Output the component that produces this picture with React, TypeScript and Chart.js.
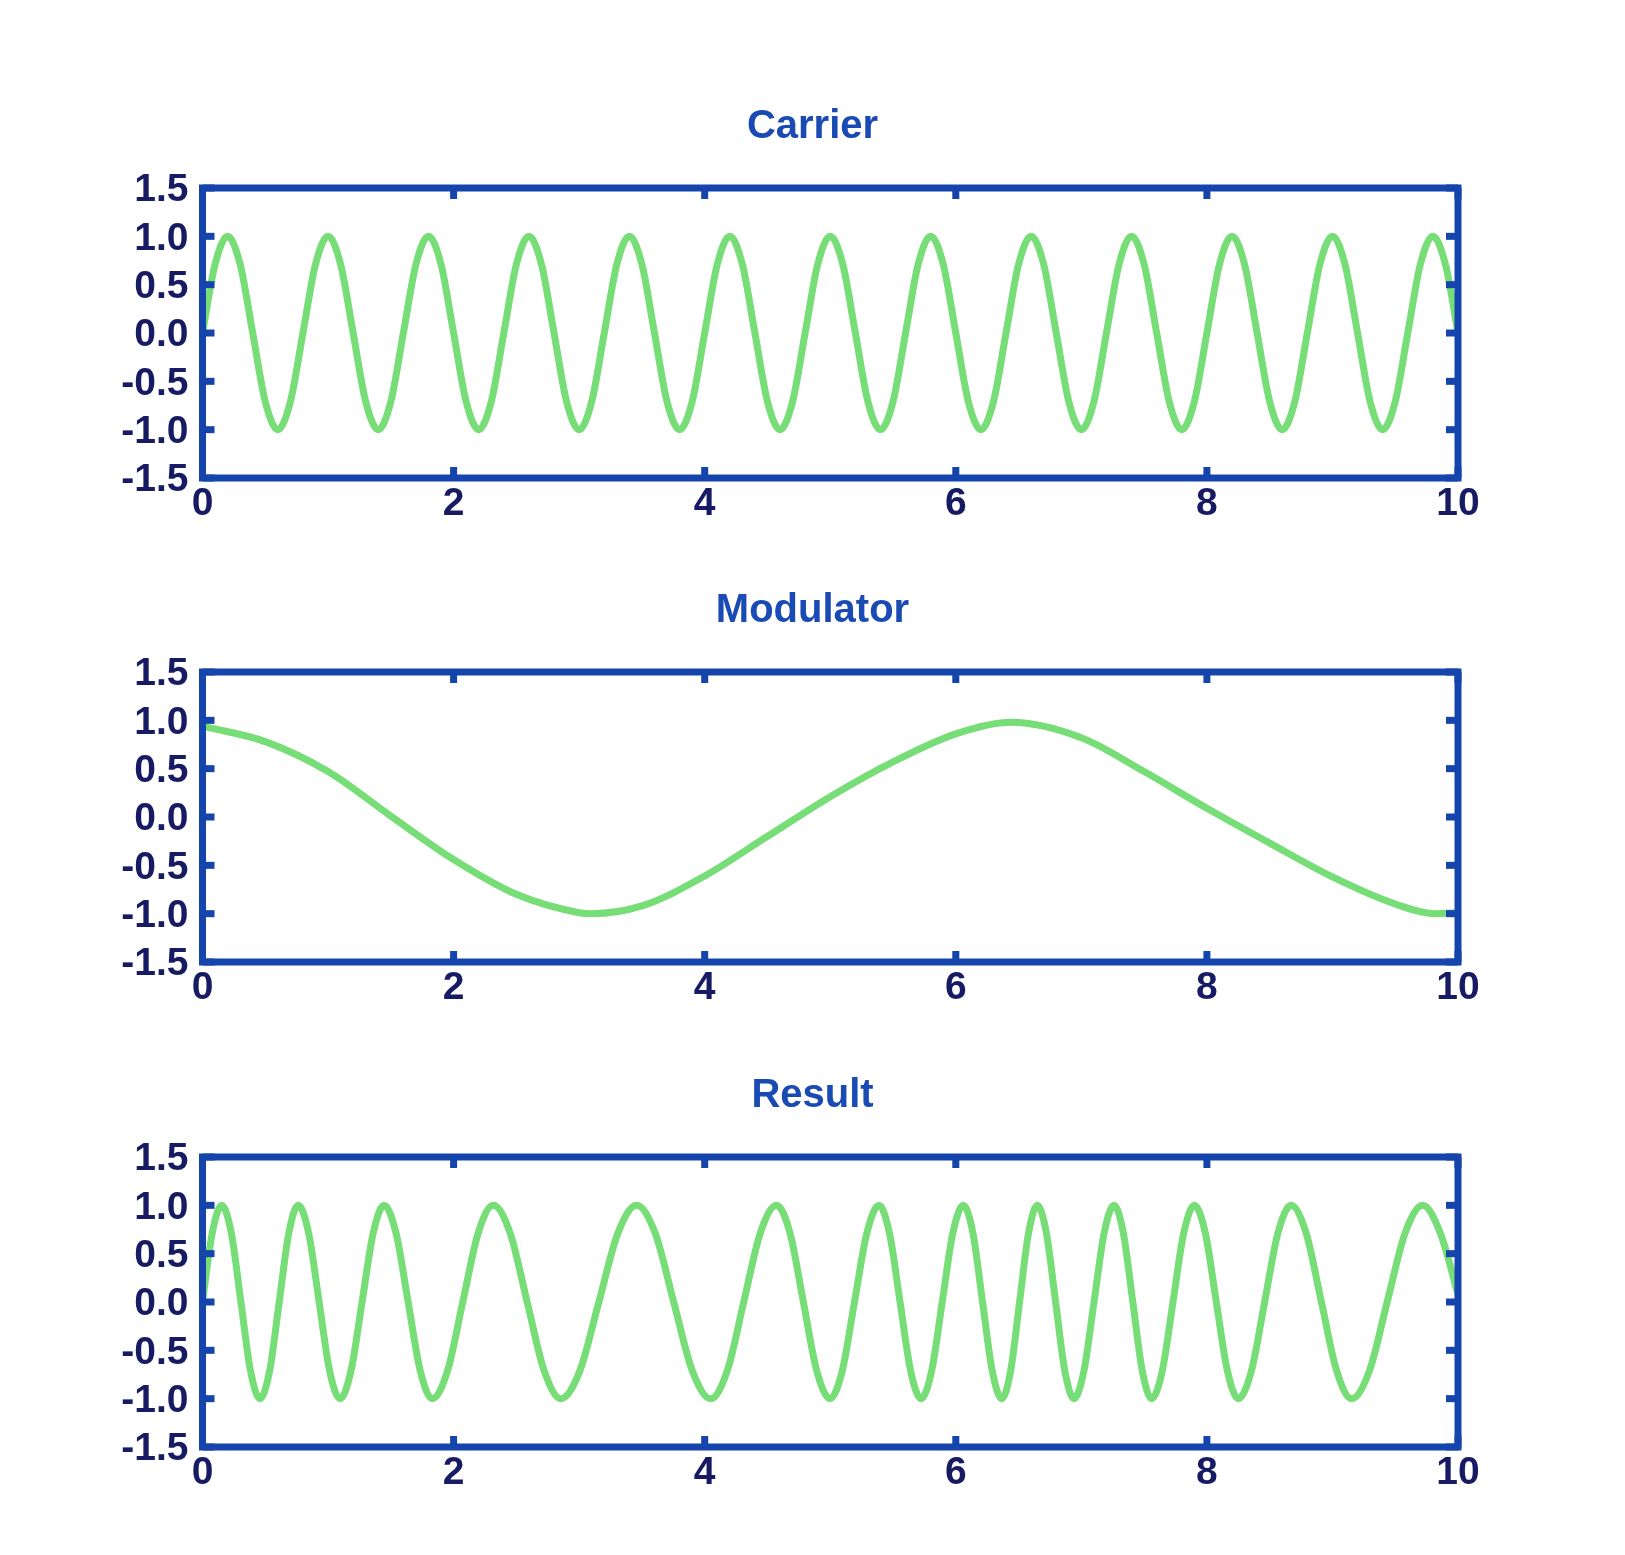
import React, { useEffect, useRef } from "react";
import { Chart, registerables } from "chart.js";

Chart.register(...registerables);

// ---------- data ----------
const carrierTime = [
  0, 0.1, 0.2, 0.3, 0.4, 0.5, 0.6, 0.7, 0.8, 0.9, 1, 1.1, 1.2, 1.3, 1.4, 1.5,
  1.6, 1.7, 1.8, 1.9, 2, 2.1, 2.2, 2.3, 2.4, 2.5, 2.6, 2.7, 2.8, 2.9, 3, 3.1,
  3.2, 3.3, 3.4, 3.5, 3.6, 3.7, 3.8, 3.9, 4, 4.1, 4.2, 4.3, 4.4, 4.5, 4.6, 4.7,
  4.8, 4.9, 5, 5.1, 5.2, 5.3, 5.4, 5.5, 5.6, 5.7, 5.8, 5.9, 6, 6.1, 6.2, 6.3,
  6.4, 6.5, 6.6, 6.7, 6.8, 6.9, 7, 7.1, 7.2, 7.3, 7.4, 7.5, 7.6, 7.7, 7.8, 7.9,
  8, 8.1, 8.2, 8.3, 8.4, 8.5, 8.6, 8.7, 8.8, 8.9, 9, 9.1, 9.2, 9.3, 9.4, 9.5,
  9.6, 9.7, 9.8, 9.9, 10,
];
const carrierValue = [
  0, 0.71, 1, 0.71, 0, -0.71, -1, -0.71, 0, 0.71, 1, 0.71, 0, -0.71, -1, -0.71,
  0, 0.71, 1, 0.71, 0, -0.71, -1, -0.71, 0, 0.71, 1, 0.71, 0, -0.71, -1, -0.71,
  0, 0.71, 1, 0.71, 0, -0.71, -1, -0.71, 0, 0.71, 1, 0.71, 0, -0.71, -1, -0.71,
  0, 0.71, 1, 0.71, 0, -0.71, -1, -0.71, 0, 0.71, 1, 0.71, 0, -0.71, -1, -0.71,
  0, 0.71, 1, 0.71, 0, -0.71, -1, -0.71, 0, 0.71, 1, 0.71, 0, -0.71, -1, -0.71,
  0, 0.71, 1, 0.71, 0, -0.71, -1, -0.71, 0, 0.71, 1, 0.71, 0, -0.71, -1, -0.71,
  0, 0.71, 1, 0.71, 0,
];

const modulatorTime = [
  0, 0.5, 1.0, 1.5, 2.0, 2.5, 3.0, 3.1, 3.5, 4.0, 4.5, 5.0, 5.5, 6.0, 6.44, 7.0,
  7.5, 8.0, 8.5, 9.0, 9.5, 9.82, 10,
];
const modulatorValue = [
  0.94, 0.78, 0.47, 0.01, -0.44, -0.8, -0.99, -1.0, -0.92, -0.61, -0.2, 0.21,
  0.57, 0.86, 0.98, 0.82, 0.47, 0.09, -0.27, -0.62, -0.9, -1.0, -0.99,
];

const resultTime = [
  0, 0.077, 0.153, 0.23, 0.306, 0.382, 0.458, 0.535, 0.611, 0.687, 0.763,
  0.846, 0.929, 1.012, 1.095, 1.183, 1.271, 1.359, 1.446, 1.542, 1.638, 1.734,
  1.83, 1.952, 2.073, 2.195, 2.316, 2.451, 2.586, 2.721, 2.855, 3.006, 3.157,
  3.308, 3.458, 3.606, 3.753, 3.901, 4.048, 4.18, 4.311, 4.442, 4.573, 4.68,
  4.786, 4.892, 4.998, 5.096, 5.193, 5.291, 5.388, 5.472, 5.556, 5.64, 5.723,
  5.808, 5.892, 5.976, 6.06, 6.137, 6.213, 6.29, 6.366, 6.437, 6.508, 6.579,
  6.649, 6.722, 6.795, 6.868, 6.941, 7.021, 7.101, 7.181, 7.26, 7.335, 7.41,
  7.485, 7.56, 7.645, 7.73, 7.815, 7.9, 7.988, 8.075, 8.163, 8.25, 8.355, 8.46,
  8.565, 8.67, 8.791, 8.912, 9.033, 9.153, 9.295, 9.436, 9.578, 9.719, 9.86, 10,
];
const resultValue = [
  0, 0.71, 1, 0.71, 0, -0.71, -1, -0.71, 0, 0.71, 1, 0.71, 0, -0.71, -1, -0.71,
  0, 0.71, 1, 0.71, 0, -0.71, -1, -0.71, 0, 0.71, 1, 0.71, 0, -0.71, -1, -0.71,
  0, 0.71, 1, 0.71, 0, -0.71, -1, -0.71, 0, 0.71, 1, 0.71, 0, -0.71, -1, -0.71,
  0, 0.71, 1, 0.71, 0, -0.71, -1, -0.71, 0, 0.71, 1, 0.71, 0, -0.71, -1, -0.71,
  0, 0.71, 1, 0.71, 0, -0.71, -1, -0.71, 0, 0.71, 1, 0.71, 0, -0.71, -1, -0.71,
  0, 0.71, 1, 0.71, 0, -0.71, -1, -0.71, 0, 0.71, 1, 0.71, 0, -0.71, -1, -0.71,
  0, 0.71, 1, 0.71, 0.08,
];

const xTickValues = [0, 2, 4, 6, 8, 10];
const yTickValues = [-1.5, -1, -0.5, 0, 0.5, 1, 1.5];
const panelTitles = ["Carrier", "Modulator", "Result"];

// ---------- styles ----------
const FRAME = "#1444ac";
const TITLE_COLOR = "#1a4ab4";
const LABEL_COLOR = "#161b63";
const GREEN = "#77dd77";
const FONT = "'Liberation Sans', Arial, Helvetica, sans-serif";

const framePlugin = {
  id: "frameTicks",
  afterDatasetsDraw(chart: any) {
    const { ctx, chartArea: a, scales } = chart;
    ctx.save();
    ctx.strokeStyle = FRAME;
    ctx.lineWidth = 7;
    ctx.lineJoin = "miter";
    ctx.strokeRect(a.left, a.top, a.right - a.left, a.bottom - a.top);
    ctx.fillStyle = FRAME;
    for (const v of xTickValues) {
      const px = scales.x.getPixelForValue(v);
      ctx.fillRect(px - 3.5, a.bottom - 11, 7, 11);
      ctx.fillRect(px - 3.5, a.top, 7, 11);
    }
    for (const v of yTickValues) {
      const py = scales.y.getPixelForValue(v);
      ctx.fillRect(a.left, py - 3.5, 12, 7);
      ctx.fillRect(a.right - 12, py - 3.5, 12, 7);
    }
    ctx.restore();
  },
};

const CANVAS_W = 1625;
const CANVAS_H = 470;

function Panel(props: { title: string; xs: number[]; ys: number[]; top: number }) {
  const ref = useRef<HTMLCanvasElement>(null);
  useEffect(() => {
    const tickFont = { family: FONT, size: 39, weight: "bold" as const, lineHeight: 1.2 };
    const chart = new Chart(ref.current as HTMLCanvasElement, {
      type: "line",
      data: {
        datasets: [
          {
            data: props.xs.map((x, i) => ({ x, y: props.ys[i] })),
            borderColor: GREEN,
            borderWidth: 7,
            pointRadius: 0,
            fill: false,
            cubicInterpolationMode: "monotone",
            yAxisID: "y",
          },
        ],
      },
      options: {
        animation: false,
        responsive: false,
        maintainAspectRatio: false,
        devicePixelRatio: 1,
        layout: { padding: { left: 0, right: 0, top: 0, bottom: 0 } },
        plugins: {
          legend: { display: false },
          tooltip: { enabled: false },
          title: {
            display: true,
            text: props.title,
            color: TITLE_COLOR,
            font: { family: FONT, size: 40, weight: "bold", lineHeight: 1.2 },
            padding: { top: 35, bottom: 37 },
          },
        },
        scales: {
          x: {
            type: "linear",
            min: 0,
            max: 10,
            afterFit: (s: any) => {
              s.height = 60;
            },
            afterBuildTicks: (s: any) => {
              s.ticks = xTickValues.map((v) => ({ value: v }));
            },
            grid: { display: false, drawTicks: false },
            border: { display: false },
            ticks: {
              color: LABEL_COLOR,
              font: tickFont,
              padding: 3,
              maxRotation: 0,
              autoSkip: false,
              callback: (v: any) => String(v),
            },
          },
          y: {
            type: "linear",
            position: "left",
            min: -1.5,
            max: 1.5,
            afterFit: (s: any) => {
              s.width = 202.5;
            },
            afterBuildTicks: (s: any) => {
              s.ticks = yTickValues.map((v) => ({ value: v }));
            },
            grid: { display: false, drawTicks: false },
            border: { display: false },
            ticks: {
              color: LABEL_COLOR,
              font: tickFont,
              padding: 14,
              labelOffset: 2.5,
              autoSkip: false,
              callback: (v: any) => Number(v).toFixed(1),
            },
          },
          yRight: {
            type: "linear",
            position: "right",
            min: -1.5,
            max: 1.5,
            afterFit: (s: any) => {
              s.width = 167;
            },
            grid: { display: false, drawTicks: false },
            border: { display: false },
            ticks: { display: false },
          },
        },
      },
      plugins: [framePlugin],
    } as any);
    return () => chart.destroy();
  }, []);
  return (
    <canvas
      ref={ref}
      width={CANVAS_W}
      height={CANVAS_H}
      style={{ position: "absolute", left: 0, top: props.top, width: CANVAS_W, height: CANVAS_H }}
    />
  );
}

export default function App() {
  return (
    <div
      style={{
        position: "absolute",
        left: 0,
        top: 0,
        width: 1625,
        height: 1555,
        background: "#ffffff",
        overflow: "hidden",
      }}
    >
      <Panel title={panelTitles[0]} xs={carrierTime} ys={carrierValue} top={68} />
      <Panel title={panelTitles[1]} xs={modulatorTime} ys={modulatorValue} top={552} />
      <Panel title={panelTitles[2]} xs={resultTime} ys={resultValue} top={1037} />
    </div>
  );
}
